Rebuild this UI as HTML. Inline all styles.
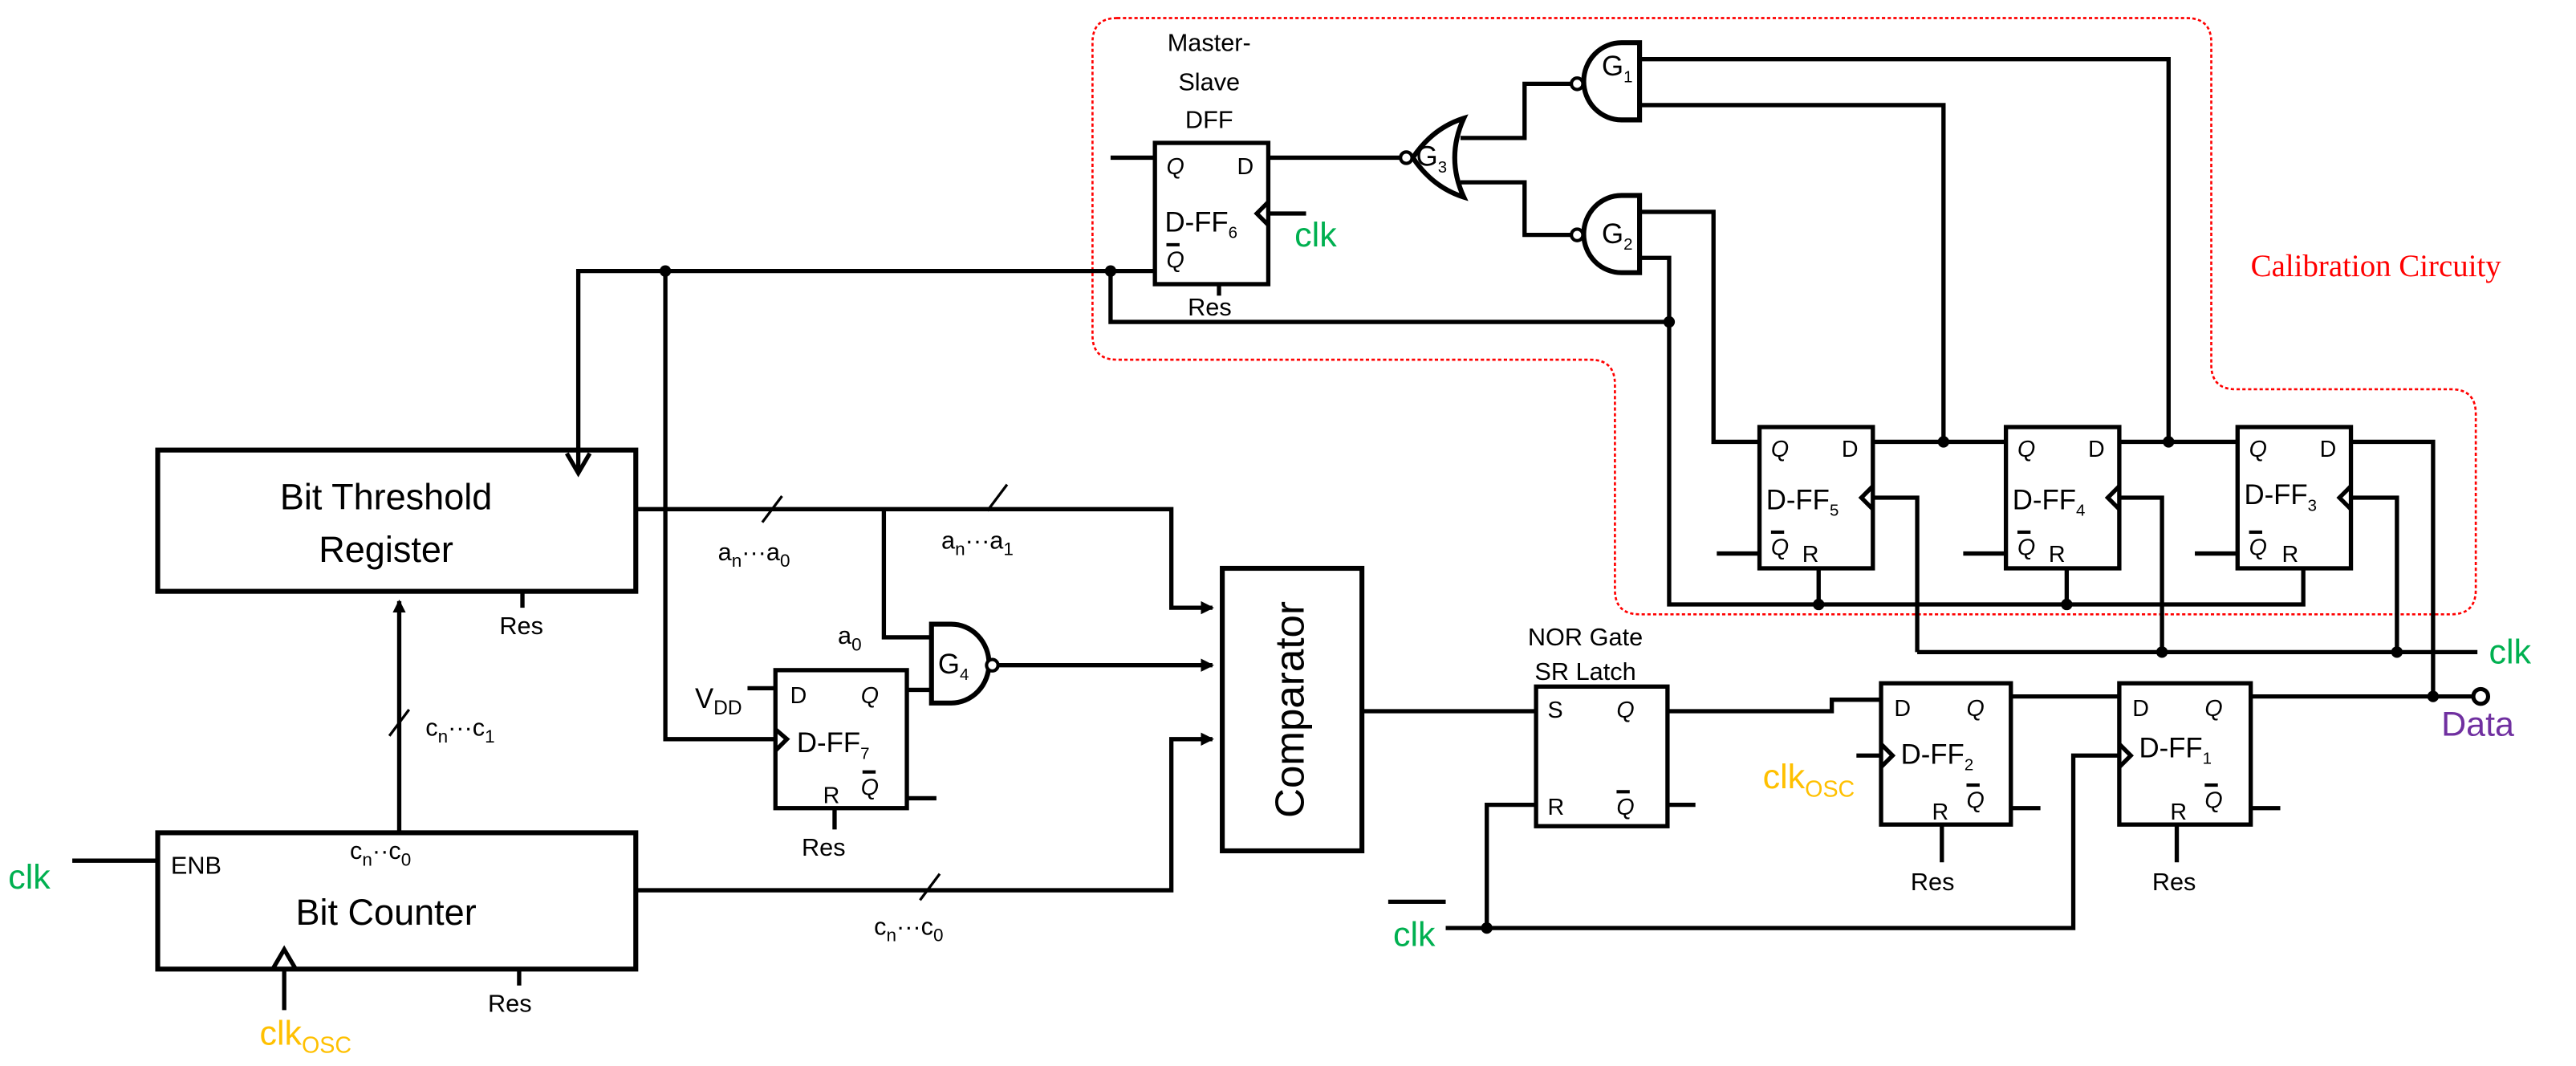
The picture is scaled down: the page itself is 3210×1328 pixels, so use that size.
<!DOCTYPE html>
<html><head><meta charset="utf-8"><style>
html,body{margin:0;padding:0;background:#fff;}
svg{display:block;}
text{font-family:"Liberation Sans",sans-serif;fill:#000;}
</style></head><body>
<svg width="3210" height="1328" viewBox="0 0 1568 649" preserveAspectRatio="none" xmlns="http://www.w3.org/2000/svg">
<defs>
<marker id="ar" markerWidth="8" markerHeight="8" refX="7" refY="4" orient="auto" markerUnits="userSpaceOnUse"><path d="M0,0 L8,4 L0,8 Z" fill="#000"/></marker>
</defs>
<path d="M680,11 H1331 Q1346,11 1346,26 V222 Q1346,237 1361,237 H1492 Q1507,237 1507,252 V359 Q1507,374 1492,374 H998 Q983,374 983,359 V234 Q983,219 968,219 H680 Q665,219 665,204 V26 Q665,11 680,11 Z" fill="none" stroke="#f00" stroke-width="1.3" stroke-dasharray="2,1.5"/>
<text x="1370" y="168" style="font-family:'Liberation Serif',serif;fill:#f00" font-size="19">Calibration  Circuity</text>

<g stroke="#000" stroke-width="2.6" fill="none">
<rect x="96" y="274" width="291" height="86" stroke-width="3"/>
<rect x="96" y="507" width="291" height="83" stroke-width="3"/>
<rect x="744" y="346" width="85" height="172" stroke-width="3"/>
<rect x="472" y="408" width="80" height="84"/>
<rect x="703" y="87" width="69" height="86"/>
<rect x="935" y="418" width="80" height="85"/>
<rect x="1145" y="416" width="79" height="86"/>
<rect x="1290" y="416" width="80" height="86"/>
<rect x="1071" y="260" width="69" height="86"/>
<rect x="1221" y="260" width="69" height="86"/>
<rect x="1362" y="260" width="69" height="86"/>
<path d="M345,276 L352,288 L359,276"/>
<path d="M166,590 L173,578 L180,590"/>
<path d="M472,444 L479,450 L472,457"/>
<path d="M772,123 L765,130 L772,137"/>
<path d="M1145,453 L1152,460 L1145,467"/>
<path d="M1290,453 L1297,460 L1290,467"/>
<path d="M1140,296 L1133,303 L1140,310"/>
<path d="M1290,296 L1283,303 L1290,310"/>
<path d="M1431,296 L1424,303 L1431,310"/>
<path d="M352,288 V165 H703"/>
<path d="M405,165 V450 H472"/>
<path d="M243,507 V366" marker-end="url(#ar)"/>
<path d="M44,524 H96"/>
<path d="M173,615 V590"/>
<path d="M318,360 V370"/>
<path d="M316,590 V600"/>
<path d="M387,310 H713 V370 H738" marker-end="url(#ar)"/>
<path d="M538,310 V388 H567"/>
<path d="M552,420 H567"/>
<path d="M455,419 H472"/>
<path d="M552,486 H570"/>
<path d="M508,492 V505"/>
<path d="M608,405 H738" marker-end="url(#ar)"/>
<path d="M387,542 H713 V450 H738" marker-end="url(#ar)"/>
<path d="M567,380 H579 A23,24 0 0 1 579,428 H567 Z" stroke-width="3"/>
<path d="M998,26 H987 A23,23.5 0 0 0 987,73 H998 Z" stroke-width="3"/>
<path d="M998,119 H987 A23,23.5 0 0 0 987,166 H998 Z" stroke-width="3"/>
<path d="M891,72 Q872,78 860,96 Q872,114 891,120 Q880,96 891,72 Z" stroke-width="3"/>
<path d="M676,96 H703"/>
<path d="M772,96 H853"/>
<path d="M772,130 H795"/>
<path d="M742,173 V180"/>
<path d="M676,165 V196 H1016"/>
<path d="M889,84 H928 V51 H957"/>
<path d="M889,111 H928 V143 H957"/>
<path d="M998,36 H1320 V269"/>
<path d="M998,64 H1183 V269"/>
<path d="M998,129 H1043 V269 H1071"/>
<path d="M998,157 H1016 V368 H1402 V346"/>
<path d="M1107,346 V368"/>
<path d="M1258,346 V368"/>
<path d="M1140,269 H1221"/>
<path d="M1290,269 H1362"/>
<path d="M1431,269 H1481 V424"/>
<path d="M1140,303 H1167 V397"/>
<path d="M1290,303 H1316 V397"/>
<path d="M1431,303 H1459 V397"/>
<path d="M1167,397 H1508"/>
<path d="M1045,337 H1071"/>
<path d="M1195,337 H1221"/>
<path d="M1336,337 H1362"/>
<path d="M829,433 H935"/>
<path d="M1015,433 H1115 V426 H1145"/>
<path d="M1015,490 H1032"/>
<path d="M880,565 H1262 V460 H1290"/>
<path d="M905,565 V490 H935"/>
<path d="M1130,460 H1145"/>
<path d="M1224,424 H1290"/>
<path d="M1224,492 H1242"/>
<path d="M1370,492 H1388"/>
<path d="M1370,424 H1506"/>
<path d="M1182,502 V525"/>
<path d="M1325,502 V525"/>
<path d="M845,549 H880"/>
<path d="M464,318 L476,302" stroke-width="1.6"/>
<path d="M601,311 L613,295" stroke-width="1.6"/>
<path d="M237,448 L249,432" stroke-width="1.6"/>
<path d="M560,548 L572,532" stroke-width="1.6"/>
</g>
<g fill="#fff" stroke="#000" stroke-width="2">
<circle cx="604" cy="405" r="3.5"/>
<circle cx="856" cy="96" r="3.5"/>
<circle cx="960" cy="51" r="3.5"/>
<circle cx="960" cy="143" r="3.5"/>
<circle cx="1510" cy="424" r="4.5" stroke-width="2.5"/>
</g>
<g fill="#000">
<circle cx="405" cy="165" r="3.5"/>
<circle cx="676" cy="165" r="3.5"/>
<circle cx="1016" cy="196" r="3.5"/>
<circle cx="1183" cy="269" r="3.5"/>
<circle cx="1320" cy="269" r="3.5"/>
<circle cx="1107" cy="368" r="3.5"/>
<circle cx="1258" cy="368" r="3.5"/>
<circle cx="1316" cy="397" r="3.5"/>
<circle cx="1459" cy="397" r="3.5"/>
<circle cx="1481" cy="424" r="3.5"/>
<circle cx="905" cy="565" r="3.5"/>
</g>
<g font-size="22" text-anchor="middle">
<text x="235" y="310">Bit Threshold</text>
<text x="235" y="342">Register</text>
<text x="235" y="563">Bit Counter</text>
</g>
<text x="787" y="432" font-size="25" text-anchor="middle" transform="rotate(-90 787 432)" dominant-baseline="middle">Comparator</text>
<g font-size="15">
<text x="304" y="386">Res</text>
<text x="297" y="616">Res</text>
<text x="488" y="521">Res</text>
<text x="1163" y="542">Res</text>
<text x="1310" y="542">Res</text>
<text x="723" y="192">Res</text>
<text x="104" y="532">ENB</text>
<text x="437" y="341">a<tspan font-size="11" dy="4">n</tspan><tspan dy="-4">···a</tspan><tspan font-size="11" dy="4">0</tspan></text>
<text x="573" y="334">a<tspan font-size="11" dy="4">n</tspan><tspan dy="-4">···a</tspan><tspan font-size="11" dy="4">1</tspan></text>
<text x="510" y="392">a<tspan font-size="11" dy="4">0</tspan></text>
<text x="259" y="448">c<tspan font-size="11" dy="4">n</tspan><tspan dy="-4">···c</tspan><tspan font-size="11" dy="4">1</tspan></text>
<text x="213" y="523">c<tspan font-size="11" dy="4">n</tspan><tspan dy="-4">··c</tspan><tspan font-size="11" dy="4">0</tspan></text>
<text x="532" y="569">c<tspan font-size="11" dy="4">n</tspan><tspan dy="-4">···c</tspan><tspan font-size="11" dy="4">0</tspan></text>
<text x="423" y="431" font-size="17">V<tspan font-size="12" dy="4">DD</tspan></text>
<text x="736" y="31" text-anchor="middle">Master-</text>
<text x="736" y="55" text-anchor="middle">Slave</text>
<text x="736" y="78" text-anchor="middle">DFF</text>
<text x="965" y="393" text-anchor="middle">NOR Gate</text>
<text x="965" y="414" text-anchor="middle">SR Latch</text>
</g>
<g font-size="14">
<text x="481" y="428">D</text><text x="524" y="428" font-style="italic">Q</text>
<text x="524" y="484" font-style="italic">Q</text><text x="501" y="489">R</text>
<text x="710" y="106" font-style="italic">Q</text><text x="753" y="106">D</text>
<text x="710" y="163" font-style="italic">Q</text>
<text x="942" y="437">S</text><text x="984" y="437" font-style="italic">Q</text>
<text x="942" y="496">R</text><text x="984" y="496" font-style="italic">Q</text>
<text x="1153" y="436">D</text><text x="1197" y="436" font-style="italic">Q</text>
<text x="1197" y="492" font-style="italic">Q</text><text x="1176" y="499">R</text>
<text x="1298" y="436">D</text><text x="1342" y="436" font-style="italic">Q</text>
<text x="1342" y="492" font-style="italic">Q</text><text x="1321" y="499">R</text>
<text x="1078" y="278" font-style="italic">Q</text><text x="1121" y="278">D</text>
<text x="1078" y="338" font-style="italic">Q</text><text x="1097" y="342">R</text>
<text x="1228" y="278" font-style="italic">Q</text><text x="1271" y="278">D</text>
<text x="1228" y="338" font-style="italic">Q</text><text x="1247" y="342">R</text>
<text x="1369" y="278" font-style="italic">Q</text><text x="1412" y="278">D</text>
<text x="1369" y="338" font-style="italic">Q</text><text x="1389" y="342">R</text>
</g>
<g stroke="#000" stroke-width="2">
<path d="M525,470 H533"/><path d="M710,149 H718"/><path d="M984,482 H992"/>
<path d="M1197,478 H1205"/><path d="M1342,478 H1350"/>
<path d="M1078,324 H1086"/><path d="M1228,324 H1236"/><path d="M1369,324 H1377"/>
</g>
<g font-size="17">
<text x="485" y="458">D-FF<tspan font-size="10" dy="4">7</tspan></text>
<text x="709" y="141">D-FF<tspan font-size="10" dy="4">6</tspan></text>
<text x="1157" y="465">D-FF<tspan font-size="10" dy="4">2</tspan></text>
<text x="1302" y="461">D-FF<tspan font-size="10" dy="4">1</tspan></text>
<text x="1075" y="310">D-FF<tspan font-size="10" dy="4">5</tspan></text>
<text x="1225" y="310">D-FF<tspan font-size="10" dy="4">4</tspan></text>
<text x="1366" y="307">D-FF<tspan font-size="10" dy="4">3</tspan></text>
<text x="975" y="46">G<tspan font-size="10" dy="4">1</tspan></text>
<text x="975" y="148">G<tspan font-size="10" dy="4">2</tspan></text>
<text x="862" y="101">G<tspan font-size="10" dy="4">3</tspan></text>
<text x="571" y="410">G<tspan font-size="10" dy="4">4</tspan></text>
</g>
<g font-size="21">
<text x="5" y="541" style="fill:#00b050">clk</text>
<text x="788" y="150" style="fill:#00b050">clk</text>
<text x="848" y="576" style="fill:#00b050">clk</text>
<text x="1515" y="404" style="fill:#00b050">clk</text>
<text x="158" y="636" style="fill:#ffc000">clk<tspan font-size="14" dy="5">OSC</tspan></text>
<text x="1073" y="480" style="fill:#ffc000">clk<tspan font-size="14" dy="5">OSC</tspan></text>
<text x="1486" y="448" style="fill:#7030a0">Data</text>
</g>
</svg>
</body></html>
